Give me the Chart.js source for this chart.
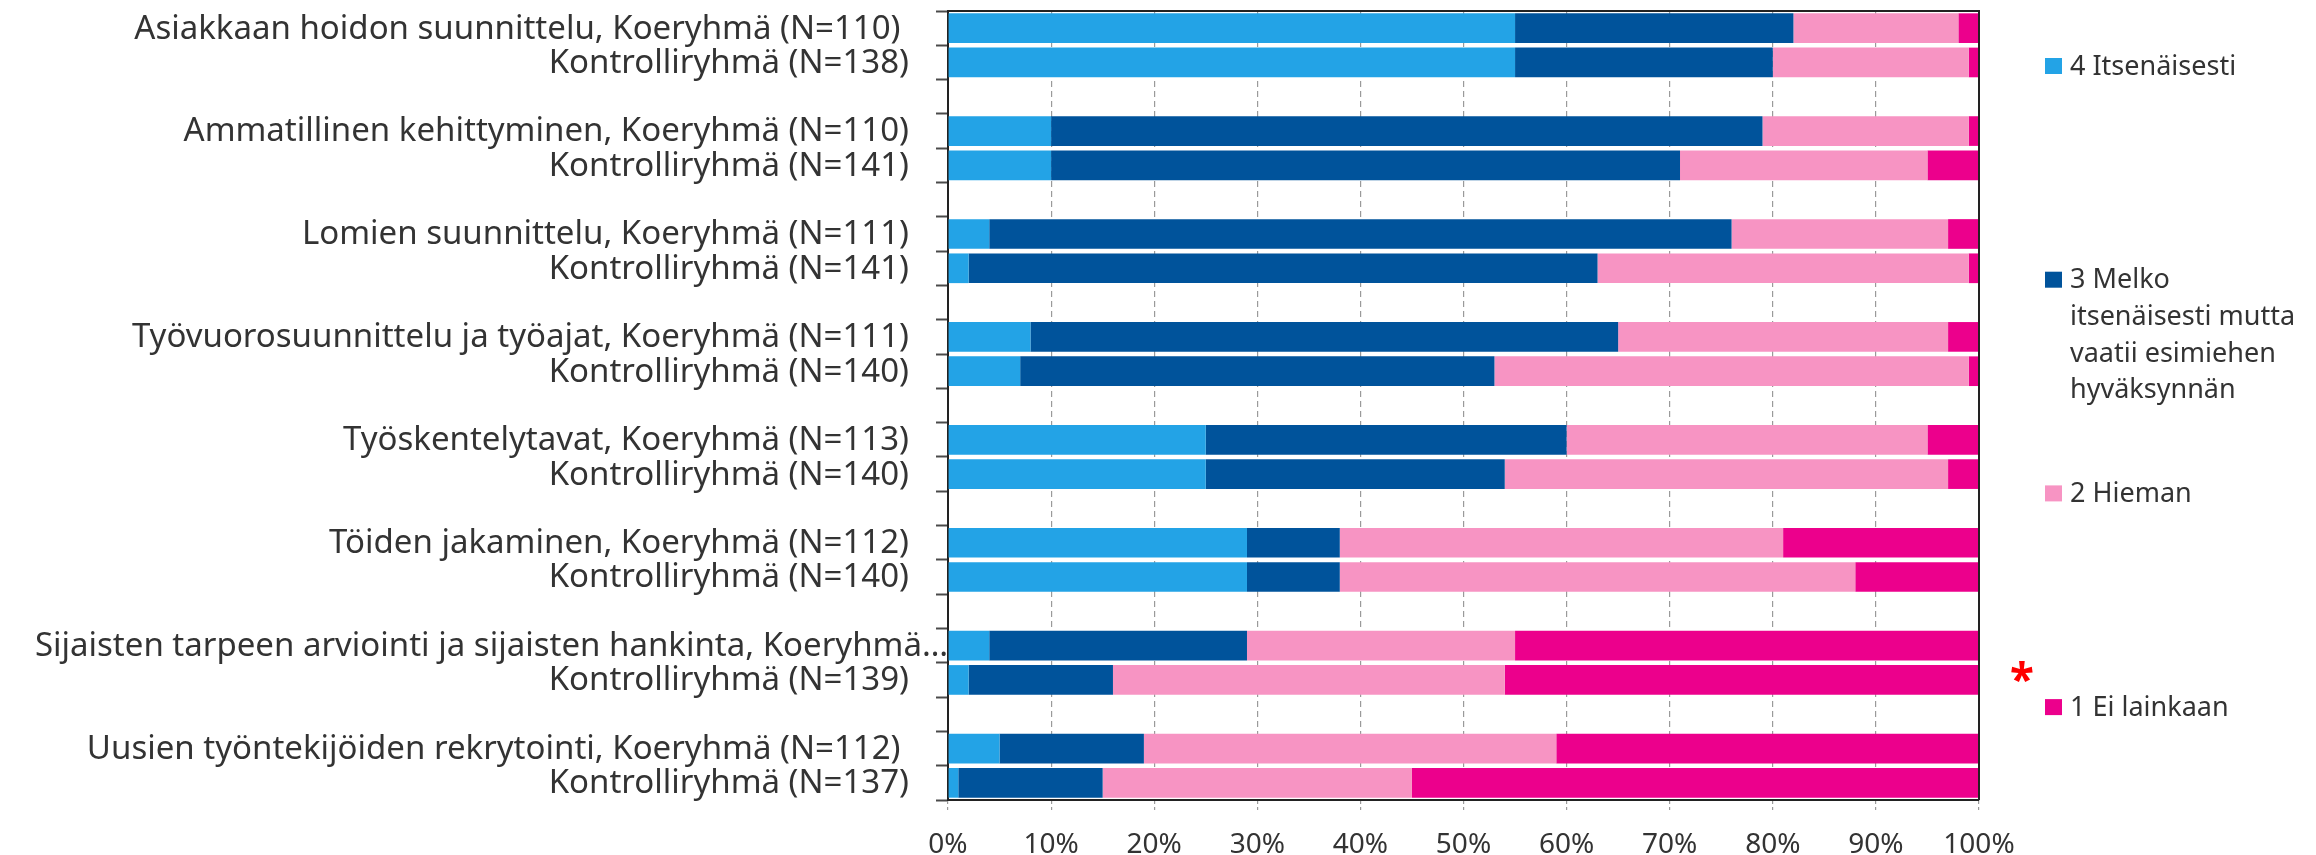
<!DOCTYPE html>
<html>
<head>
<meta charset="utf-8">
<script src="https://cdn.jsdelivr.net/npm/chart.js@4.4.1/dist/chart.umd.min.js"></script>
<style>
  html, body { margin: 0; padding: 0; background: #fff; }
  #wrap { width: 2316px; height: 855px; position: relative; }
</style>
</head>
<body>
<div id="wrap"><canvas id="chart"></canvas></div>
<script>
// Bar labels, two bars (Koeryhmä / Kontrolliryhmä) per topic
const barLabels = [
  "Asiakkaan hoidon suunnittelu, Koeryhmä (N=110) ",
  "Kontrolliryhmä (N=138)",
  "Ammatillinen kehittyminen, Koeryhmä (N=110)",
  "Kontrolliryhmä (N=141)",
  "Lomien suunnittelu, Koeryhmä (N=111)",
  "Kontrolliryhmä (N=141)",
  "Työvuorosuunnittelu ja työajat, Koeryhmä (N=111)",
  "Kontrolliryhmä (N=140)",
  "Työskentelytavat, Koeryhmä (N=113)",
  "Kontrolliryhmä (N=140)",
  "Töiden jakaminen, Koeryhmä (N=112)",
  "Kontrolliryhmä (N=140)",
  "Sijaisten tarpeen arviointi ja sijaisten hankinta, Koeryhmä…",
  "Kontrolliryhmä (N=139)",
  "Uusien työntekijöiden rekrytointi, Koeryhmä (N=112) ",
  "Kontrolliryhmä (N=137)"
]

const seriesNames = [
  "4 Itsenäisesti",
  "3 Melko itsenäisesti mutta vaatii esimiehen hyväksynnän",
  "2 Hieman",
  "1 Ei lainkaan"
]

// percentages per bar, same order as barLabels
const itsenaisesti = [55, 55, 10, 10, 4, 2, 8, 7, 25, 25, 29, 29, 4, 2, 5, 1]
const melkoItsenaisesti = [27, 25, 69, 61, 72, 61, 57, 46, 35, 29, 9, 9, 25, 14, 14, 14]
const hieman = [16, 19, 20, 24, 21, 36, 32, 46, 35, 43, 43, 50, 26, 38, 40, 30]
const eiLainkaan = [2, 1, 1, 5, 3, 1, 3, 1, 5, 3, 19, 12, 45, 46, 41, 55]

const xTicks = [0, 10, 20, 30, 40, 50, 60, 70, 80, 90, 100]

const colors = ["#23a3e6", "#00539b", "#f794c3", "#ec008c"]

const FONT = "'Noto Sans', sans-serif"
const TEXT_COLOR = "#333333"

// an empty category between each pair of bars
function withGaps(values, filler) {
  const out = []
  values.forEach((v, i) => {
    out.push(v)
    if (i % 2 === 1 && i < values.length - 1) out.push(filler)
  })
  return out
}

const categories = withGaps(barLabels, "")
const seriesValues = [itsenaisesti, melkoItsenaisesti, hieman, eiLainkaan]

const datasets = seriesValues.map((values, i) => ({
  label: seriesNames[i],
  data: withGaps(values, null),
  backgroundColor: colors[i],
  borderWidth: 0,
  barPercentage: 0.865,
  categoryPercentage: 1
}))

// category labels drawn by hand so the truncated one can run up to the axis
const yLabelPlugin = {
  id: "yLabels",
  afterDraw(chart) {
    const scale = chart.scales.y
    const ctx = chart.ctx
    ctx.save()
    ctx.font = "33px " + FONT
    ctx.fillStyle = TEXT_COLOR
    ctx.textAlign = "right"
    ctx.textBaseline = "middle"
    chart.data.labels.forEach((label, i) => {
      if (!label) return
      const x = label.endsWith("…") ? scale.right : scale.right - 39
      ctx.fillText(label, x, scale.getPixelForTick(i) + 1)
    })
    ctx.restore()
  }
}

// top and right edges of the plot box
const framePlugin = {
  id: "frame",
  afterDatasetsDraw(chart) {
    const { ctx, chartArea: a } = chart
    ctx.save()
    ctx.strokeStyle = "#222222"
    ctx.lineWidth = 2
    ctx.beginPath()
    ctx.moveTo(a.left, a.top)
    ctx.lineTo(a.right, a.top)
    ctx.lineTo(a.right, a.bottom)
    ctx.stroke()
    ctx.restore()
  }
}

function wrapText(ctx, text, maxWidth) {
  const words = text.split(" ")
  const lines = []
  let line = ""
  words.forEach(w => {
    const test = line ? line + " " + w : w
    if (line && ctx.measureText(test).width > maxWidth) {
      lines.push(line)
      line = w
    } else {
      line = test
    }
  })
  if (line) lines.push(line)
  return lines
}

// legend on the right, items spread down the full height, plus the red asterisk
const legendPlugin = {
  id: "sideLegend",
  afterDraw(chart) {
    const ctx = chart.ctx
    const boxX = 2045
    const textX = 2070
    const firstY = 66
    const step = 213.7
    const lineHeight = 36.7
    ctx.save()
    ctx.font = "27px " + FONT
    ctx.textAlign = "left"
    ctx.textBaseline = "middle"
    chart.data.datasets.forEach((ds, i) => {
      const cy = firstY + i * step
      ctx.fillStyle = ds.backgroundColor
      ctx.fillRect(boxX, cy - 8, 17, 16)
      ctx.fillStyle = TEXT_COLOR
      const lines = wrapText(ctx, ds.label, chart.width - textX - 8)
      lines.forEach((ln, j) => ctx.fillText(ln, textX, cy + 1 + j * lineHeight))
    })

    const starY = firstY + 3 * step - 35
    ctx.font = "bold 44px " + FONT
    ctx.fillStyle = "#ff0000"
    ctx.textAlign = "center"
    ctx.textBaseline = "alphabetic"
    const m = ctx.measureText("*")
    ctx.fillText("*", 2022, starY + (m.actualBoundingBoxAscent - m.actualBoundingBoxDescent) / 2)
    ctx.restore()
  }
}

new Chart(document.getElementById("chart"), {
  type: "bar",
  data: { labels: categories, datasets },
  plugins: [yLabelPlugin, framePlugin, legendPlugin],
  options: {
    indexAxis: "y",
    responsive: true,
    maintainAspectRatio: false,
    animation: false,
    devicePixelRatio: 1,
    layout: { padding: { top: 11, right: 337, left: 0, bottom: 0 } },
    plugins: {
      legend: { display: false },
      tooltip: { enabled: false }
    },
    scales: {
      x: {
        stacked: true,
        min: 0,
        max: 100,
        afterBuildTicks(scale) {
          scale.ticks = xTicks.map(v => ({ value: v }))
        },
        afterFit(scale) { scale.height = 55 },
        ticks: {
          callback: v => v + "%",
          font: { family: FONT, size: 28 },
          color: TEXT_COLOR,
          padding: 18,
          maxRotation: 0
        },
        grid: {
          color: "#9a9a9a",
          lineWidth: 1.2,
          tickLength: 10,
          tickColor: "#9a9a9a",
          tickWidth: 1.2,
          tickBorderDash: [3, 3]
        },
        border: { display: true, color: "#222222", width: 2, dash: [6, 4] }
      },
      y: {
        stacked: true,
        afterFit(scale) { scale.width = 948 },
        ticks: { display: false },
        grid: {
          offset: true,
          drawOnChartArea: false,
          drawTicks: true,
          tickLength: 12,
          tickColor: "#4a4a4a",
          tickWidth: 2
        },
        border: { display: true, color: "#222222", width: 2 }
      }
    }
  }
})
</script>
</body>
</html>
